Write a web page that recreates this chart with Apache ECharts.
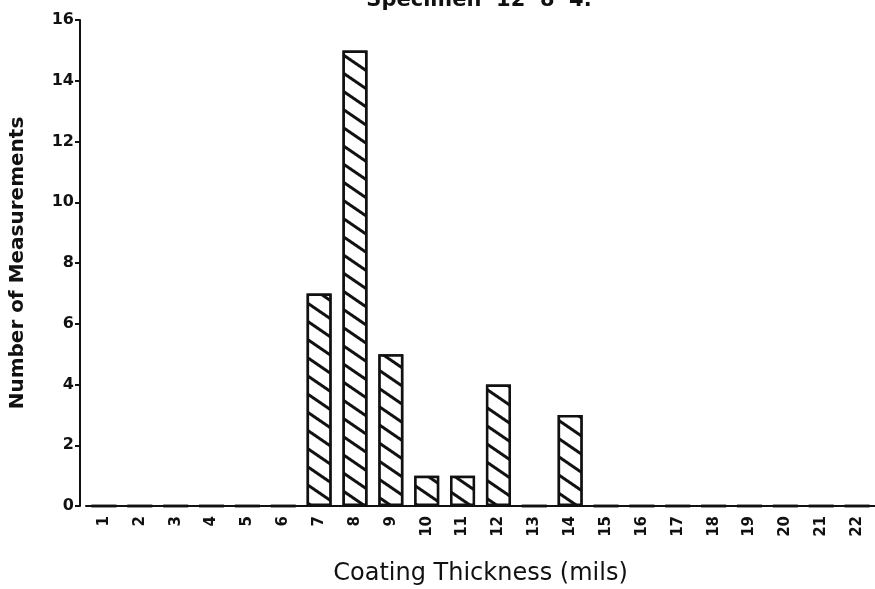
<!DOCTYPE html>
<html>
<head>
<meta charset="utf-8">
<script src="https://cdn.jsdelivr.net/npm/echarts@6/dist/echarts.min.js"></script>
<style>
  html, body { margin: 0; padding: 0; background: #fff; }
  #chart { width: 875px; height: 589px; }
</style>
</head>
<body>
<div id="chart"></div>
<script>
// Coating thickness histogram
const thickness = ['1','2','3','4','5','6','7','8','9','10','11','12','13','14','15','16','17','18','19','20','21','22'];
const counts = [0, 0, 0, 0, 0, 0, 7, 15, 5, 1, 1, 4, 0, 3, 0, 0, 0, 0, 0, 0, 0, 0];
const yTicks = { min: 0, max: 16, step: 2 };

const FONT = '"DejaVu Sans", sans-serif';
const chart = echarts.init(document.getElementById('chart'), null, { renderer: 'canvas' });

chart.setOption({
  animation: false,
  backgroundColor: '#ffffff',
  title: {
    text: 'Specimen  12  8  4.',
    left: 474,
    textAlign: 'center',
    top: -15,
    textStyle: { fontFamily: FONT, fontSize: 21, fontWeight: 'bold', color: '#111' }
  },
  grid: { left: 86, right: 0, top: 20, bottom: 83, outerBoundsMode: 'none', containLabel: false },
  xAxis: {
    type: 'category',
    data: thickness,
    name: 'Coating Thickness (mils)',
    nameLocation: 'middle',
    nameGap: 56,
    nameTextStyle: { fontFamily: FONT, fontSize: 24, color: '#111' },
    axisLine: { lineStyle: { color: '#111', width: 2 } },
    axisTick: { alignWithLabel: true, length: 6, lineStyle: { color: '#111', width: 2 } },
    axisLabel: { rotate: 90, margin: 10, fontFamily: FONT, fontSize: 15, fontWeight: 'bold', color: '#111' }
  },
  yAxis: {
    type: 'value',
    min: yTicks.min,
    max: yTicks.max,
    interval: yTicks.step,
    offset: 6,
    name: 'Number of Measurements',
    nameLocation: 'middle',
    nameGap: 52,
    nameTextStyle: { fontFamily: FONT, fontSize: 20, fontWeight: 'bold', color: '#111', padding: [0, 0, 0, 0] },
    axisLine: { show: true, lineStyle: { color: '#111', width: 2 } },
    axisTick: { show: true, length: 5, lineStyle: { color: '#111', width: 2 } },
    axisLabel: { margin: 6, fontFamily: FONT, fontSize: 16, fontWeight: 'bold', color: '#111' },
    splitLine: { show: false }
  },
  series: [{
    type: 'bar',
    data: counts,
    barWidth: 25,
    itemStyle: {
      color: '#ffffff',
      borderColor: '#111',
      borderWidth: 2.5,
      decal: {
        symbol: 'rect',
        symbolSize: 1,
        color: '#111',
        backgroundColor: '#ffffff',
        dashArrayX: [1, 0],
        dashArrayY: [3, 12],
        rotation: 0.6
      }
    }
  }]
});
</script>
</body>
</html>
